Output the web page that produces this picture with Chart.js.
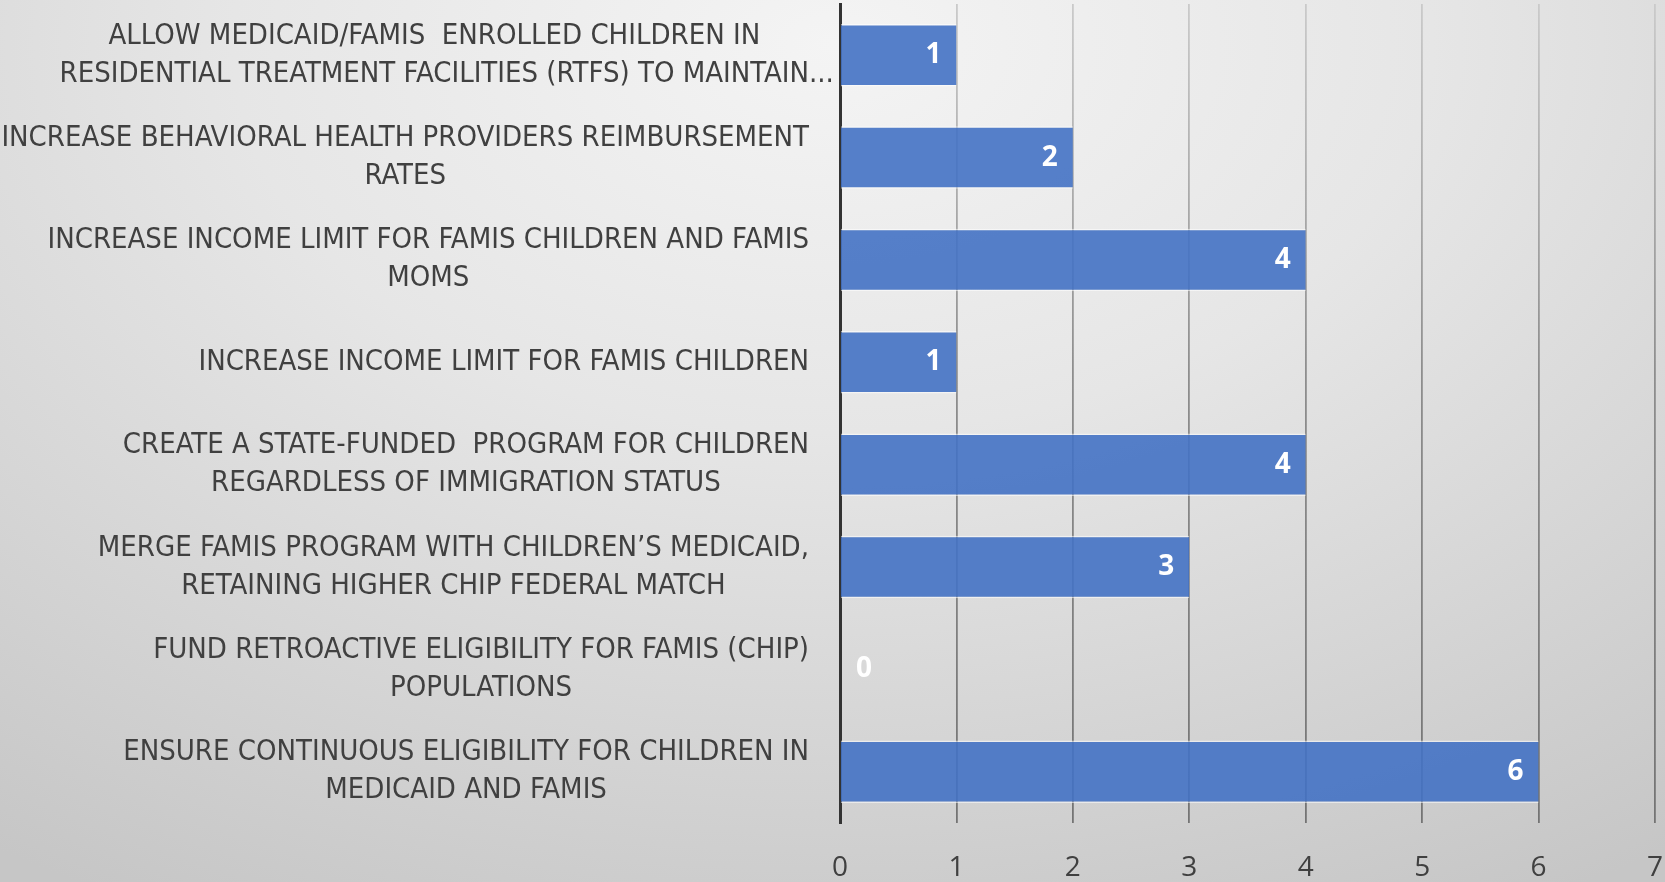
<!DOCTYPE html>
<html>
<head>
<meta charset="utf-8">
<script src="https://cdn.jsdelivr.net/npm/chart.js@4/dist/chart.umd.min.js"></script>
<style>
  html, body { margin: 0; padding: 0; }
  body {
    width: 1665px; height: 882px; overflow: hidden;
    background: radial-gradient(ellipse 90% 110% at 50% 5%, #f4f4f4 0%, #e6e6e6 40%, #c6c6c6 100%);
  }
  #wrap { position: relative; width: 1665px; height: 882px; }
</style>
</head>
<body>
<div id="wrap"><canvas id="myChart"></canvas></div>
<script>
// categories (top to bottom), each one split in lines as on the slide
var categories = [
    ['ALLOW MEDICAID/FAMIS  ENROLLED CHILDREN IN', 'RESIDENTIAL TREATMENT FACILITIES (RTFS) TO MAINTAIN...'],
    ['INCREASE BEHAVIORAL HEALTH PROVIDERS REIMBURSEMENT', 'RATES'],
    ['INCREASE INCOME LIMIT FOR FAMIS CHILDREN AND FAMIS', 'MOMS'],
    ['INCREASE INCOME LIMIT FOR FAMIS CHILDREN'],
    ['CREATE A STATE-FUNDED  PROGRAM FOR CHILDREN', 'REGARDLESS OF IMMIGRATION STATUS'],
    ['MERGE FAMIS PROGRAM WITH CHILDREN\u2019S MEDICAID,', 'RETAINING HIGHER CHIP FEDERAL MATCH'],
    ['FUND RETROACTIVE ELIGIBILITY FOR FAMIS (CHIP)', 'POPULATIONS'],
    ['ENSURE CONTINUOUS ELIGIBILITY FOR CHILDREN IN', 'MEDICAID AND FAMIS']
];
var votes = [1, 2, 4, 1, 4, 3, 0, 6];
var xTicks = [0, 1, 2, 3, 4, 5, 6, 7];

var labelFont = '29px "DejaVu Sans Condensed", "Liberation Sans Narrow", sans-serif';
var textColor = '#404040';

// category labels: each block centred on itself, blocks right-aligned to the axis
var categoryLabels = {
    id: 'categoryLabels',
    afterDraw: function(chart) {
        var c = chart.ctx, yScale = chart.scales.y;
        var right = chart.chartArea.left - 31;
        c.save();
        c.font = labelFont;
        c.fillStyle = textColor;
        c.textAlign = 'center';
        c.textBaseline = 'middle';
        categories.forEach(function(lines, i) {
            var y = yScale.getPixelForValue(i);
            var maxW = 0;
            lines.forEach(function(l) {
                maxW = Math.max(maxW, c.measureText(l.replace(/\.\.\.$/, '')).width);
            });
            var cx = right - maxW / 2;
            var top = y - (lines.length - 1) * 38 / 2;
            lines.forEach(function(l, k) {
                var w = c.measureText(l.replace(/\.\.\.$/, '')).width;
                var full = c.measureText(l).width;
                // keep the truncation dots hanging past the block edge
                c.fillText(l, cx + (full - w) / 2, top + k * 38);
            });
        });
        c.restore();
    }
};

// white value labels at the inside end of each bar
var valueLabels = {
    id: 'valueLabels',
    afterDatasetsDraw: function(chart) {
        var c = chart.ctx;
        var meta = chart.getDatasetMeta(0);
        c.save();
        c.font = 'bold 28px "Open Sans", "DejaVu Sans", sans-serif';
        c.fillStyle = '#ffffff';
        c.textBaseline = 'middle';
        meta.data.forEach(function(bar, i) {
            var v = votes[i];
            if (v > 0) {
                c.textAlign = 'right';
                c.fillText(String(v), bar.x - 15, bar.y);
            } else {
                c.textAlign = 'left';
                c.fillText(String(v), bar.base + 16, bar.y);
            }
        });
        c.restore();
    }
};

function gridColor(ctx) {
    var chart = ctx.chart, a = chart.chartArea;
    if (!a) return '#8a8a8a';
    var g = chart.ctx.createLinearGradient(0, a.top, 0, a.bottom);
    g.addColorStop(0, '#cacaca');
    g.addColorStop(0.45, '#8e8e8e');
    g.addColorStop(1, '#747474');
    return g;
}

var config = {
    type: 'bar',
    data: {
        labels: categories,
        datasets: [{
            data: votes,
            backgroundColor: 'rgba(68,114,196,0.9)',
            borderColor: 'rgba(255,255,255,0.55)',
            borderWidth: { top: 1.5, bottom: 1.5, right: 0, left: 0 },
            borderSkipped: 'start',
            categoryPercentage: 1,
            barPercentage: 0.61
        }]
    },
    options: {
        indexAxis: 'y',
        responsive: true,
        maintainAspectRatio: false,
        animation: false,
        layout: { padding: { left: 0, right: 10, top: 4, bottom: 0 } },
        plugins: {
            legend: { display: false },
            tooltip: { enabled: false }
        },
        scales: {
            x: {
                min: 0,
                max: 7,
                afterBuildTicks: function(scale) {
                    scale.ticks = xTicks.map(function(v) { return { value: v }; });
                },
                afterFit: function(scale) {
                    scale.height = 59;
                    scale.paddingLeft = 0;
                    scale.paddingRight = 0;
                },
                grid: {
                    color: gridColor,
                    lineWidth: 1.8,
                    drawTicks: false
                },
                border: { display: false },
                ticks: {
                    color: textColor,
                    padding: 28,
                    font: { family: '"Open Sans", "DejaVu Sans", sans-serif', size: 28 }
                }
            },
            y: {
                afterFit: function(scale) { scale.width = 840; },
                grid: { display: false },
                border: { display: true, color: '#333333', width: 3 },
                ticks: { display: false }
            }
        }
    },
    plugins: [categoryLabels, valueLabels]
};
var ctx = document.getElementById('myChart').getContext('2d');
var chart = new Chart(ctx, config);
</script>
</body>
</html>
